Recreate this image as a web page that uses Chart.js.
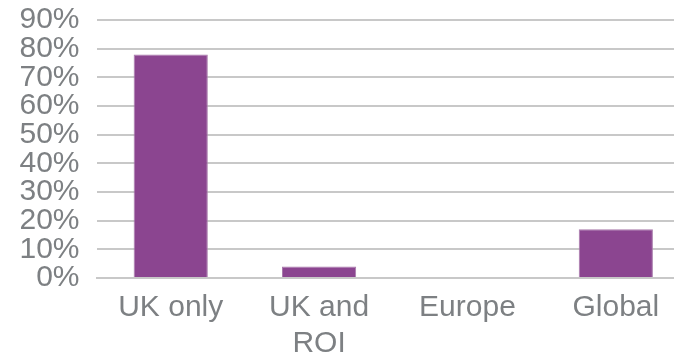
<!DOCTYPE html>
<html>
<head>
<meta charset="utf-8">
<script src="https://cdn.jsdelivr.net/npm/chart.js@4/dist/chart.umd.min.js"></script>
<style>
  html, body { margin: 0; padding: 0; background: #ffffff; overflow: hidden; }
  body { position: relative; width: 674px; height: 362px; }
  #wrap { position: absolute; left: 0; top: -15px; width: 690px; height: 389px; }
</style>
</head>
<body>
<div id="wrap"><canvas id="chart"></canvas></div>
<script>
// Geographic reach of respondents (share, %)
const categories = ['UK only', ['UK and', 'ROI'], 'Europe', 'Global'];
const shares = [78, 4, 0, 17];
const yTicks = [0, 10, 20, 30, 40, 50, 60, 70, 80, 90];

const textGrey = '#7d8083';
const gridGrey = '#c8c8c8';
const barPurple = '#8b4590';
const labelFont = { family: 'Liberation Sans, Arial, sans-serif', size: 30, lineHeight: 1.2 };

new Chart(document.getElementById('chart'), {
  type: 'bar',
  data: {
    labels: categories,
    datasets: [{
      data: shares,
      backgroundColor: barPurple,
      borderColor: '#a87aab',
      borderWidth: 1,
      barPercentage: 0.5,
      categoryPercentage: 1.0
    }]
  },
  options: {
    responsive: true,
    maintainAspectRatio: false,
    animation: false,
    layout: { padding: { left: 2.5, right: 0, top: 1, bottom: 0 } },
    plugins: { legend: { display: false }, tooltip: { enabled: false } },
    scales: {
      x: {
        grid: { display: false, drawTicks: false },
        border: { display: true, color: gridGrey, width: 2 },
        ticks: {
          color: textGrey,
          font: labelFont,
          padding: 12,
          maxRotation: 0,
          autoSkip: false
        }
      },
      y: {
        min: 0,
        max: 90,
        afterBuildTicks: (axis) => { axis.ticks = yTicks.map(v => ({ value: v })); },
        grid: { color: gridGrey, lineWidth: 2, drawTicks: false },
        border: { display: false },
        ticks: {
          color: textGrey,
          font: labelFont,
          padding: 17,
          autoSkip: false,
          callback: (v) => v + '%'
        }
      }
    }
  }
});
</script>
</body>
</html>
